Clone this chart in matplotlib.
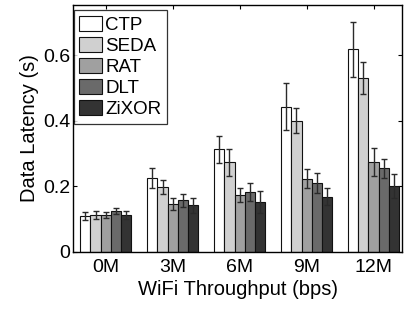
import matplotlib
matplotlib.use("Agg")
import matplotlib.pyplot as plt
import numpy as np

plt.rcParams['font.family'] = ['Liberation Sans', 'DejaVu Sans']

categories = ["0M", "3M", "6M", "9M", "12M"]
series = ["CTP", "SEDA", "RAT", "DLT", "ZiXOR"]
means = {
    "CTP":   [0.110, 0.225, 0.313, 0.443, 0.618],
    "SEDA":  [0.112, 0.197, 0.273, 0.400, 0.531],
    "RAT":   [0.113, 0.146, 0.174, 0.223, 0.275],
    "DLT":   [0.126, 0.158, 0.183, 0.211, 0.255],
    "ZiXOR": [0.112, 0.143, 0.153, 0.169, 0.202],
}
errs = {
    "CTP":   [0.013, 0.031, 0.041, 0.072, 0.083],
    "SEDA":  [0.012, 0.021, 0.041, 0.038, 0.048],
    "RAT":   [0.009, 0.018, 0.022, 0.029, 0.042],
    "DLT":   [0.009, 0.020, 0.028, 0.030, 0.028],
    "ZiXOR": [0.012, 0.023, 0.034, 0.027, 0.036],
}
colors = ["#ffffff", "#d0d0d0", "#a0a0a0", "#6a6a6a", "#333333"]

fig = plt.figure(figsize=(4.14, 3.09), dpi=100)
ax = fig.add_axes([0.1763, 0.1845, 0.9720 - 0.1763, 0.9838 - 0.1845])

x = np.arange(len(categories))
w = 0.153
for i, s in enumerate(series):
    xi = x + (i - 2) * w
    ax.bar(xi, means[s], width=w, color=colors[i], edgecolor="#111111",
           linewidth=0.8, label=s, zorder=2)
    ax.errorbar(xi, means[s], yerr=errs[s], fmt="none", ecolor="#2a2a2a",
                elinewidth=1.0, capsize=2.5, capthick=1.0, zorder=3)

ax.set_xlim(-0.49, 4.43)
ax.set_ylim(0, 0.753)
ax.set_xticks(x)
ax.set_xticklabels(categories)
ax.set_yticks([0, 0.2, 0.4, 0.6])
ax.set_yticklabels(["0", "0.2", "0.4", "0.6"])
ax.tick_params(direction="in", top=True, right=True, labelsize=14, length=3,
               width=0.8)
ax.tick_params(axis="y", pad=2)
ax.tick_params(axis="x", pad=5)
for sp in ax.spines.values():
    sp.set_linewidth(1.0)
ax.set_xlabel("WiFi Throughput (bps)", fontsize=14.5, labelpad=3)
ax.set_ylabel("Data Latency (s)", fontsize=14.5, labelpad=3)

leg = ax.legend(loc="upper left", bbox_to_anchor=(0.002, 0.98), fontsize=13.5,
                frameon=True, fancybox=False, edgecolor="black",
                borderpad=0.3, labelspacing=0.15, handlelength=1.2,
                handleheight=0.9, handletextpad=0.18, borderaxespad=0.0)
leg.get_frame().set_linewidth(0.9)

fig.savefig("out.png", dpi=100)
